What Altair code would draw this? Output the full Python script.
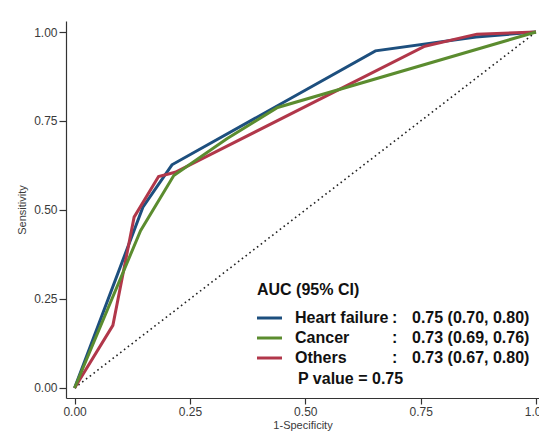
import altair as alt
import pandas as pd

# ROC curve points
hf_x = [0, 0.148, 0.211, 0.652, 0.87, 1]
hf_y = [0, 0.508, 0.627, 0.947, 0.986, 1]
ca_x = [0, 0.143, 0.215, 0.33, 0.44, 1]
ca_y = [0, 0.442, 0.597, 0.70, 0.788, 1]
ot_x = [0, 0.083, 0.129, 0.182, 0.218, 0.759, 0.872, 1]
ot_y = [0, 0.176, 0.48, 0.594, 0.606, 0.96, 0.994, 1]
diag_x = [0, 1]
diag_y = [0, 1]

series = ["Heart failure", "Cancer", "Others"]
colors = ["#1d4f7e", "#5b8c2f", "#b1374a"]
auc_text = ["0.75 (0.70, 0.80)", "0.73 (0.69, 0.76)", "0.73 (0.67, 0.80)"]
ticks = [0, 0.25, 0.5, 0.75, 1.0]

FONT = "Liberation Sans"


def df(xs, ys, name):
    return pd.DataFrame({"x": xs, "y": ys, "i": range(len(xs)), "s": name})


xscale = alt.Scale(domain=[-0.0186, 1.0065], nice=False, zero=False)
yscale = alt.Scale(domain=[-0.0281, 1.0309], nice=False, zero=False)

xax = alt.Axis(values=ticks, format=".2f", title="1-Specificity", grid=False,
               tickSize=6, labelPadding=2, titlePadding=2)
yax = alt.Axis(values=ticks, format=".2f", title="Sensitivity", grid=False,
               tickSize=7, labelPadding=2, titlePadding=6)


def curve(d, color):
    return alt.Chart(d).mark_line(strokeWidth=3, color=color).encode(
        x=alt.X("x:Q", scale=xscale, axis=xax),
        y=alt.Y("y:Q", scale=yscale, axis=yax),
        order="i:Q",
    )


diag = alt.Chart(df(diag_x, diag_y, "ref")).mark_line(
    color="#222222", strokeWidth=1.6, strokeDash=[1.6, 3.2]
).encode(
    x=alt.X("x:Q", scale=xscale, axis=xax),
    y=alt.Y("y:Q", scale=yscale, axis=yax),
    order="i:Q",
)

blue = curve(df(hf_x, hf_y, series[0]), colors[0])
green = curve(df(ca_x, ca_y, series[1]), colors[1])
red = curve(df(ot_x, ot_y, series[2]), colors[2])

# legend (custom, inside the plot)
leg_df = pd.DataFrame({"s": series, "c": colors, "v": auc_text})
LX = 191   # left end of legend line, plot coords
ROW0 = 297  # first legend row line y, plot coords
DY = 20

leg_lines = []
leg_texts = []
for k in range(3):
    yline = ROW0 + k * DY
    leg_lines.append(
        alt.Chart(leg_df.iloc[[k]]).mark_rule(strokeWidth=3, color=colors[k]).encode(
            x=alt.value(LX), x2=alt.value(LX + 25), y=alt.value(yline)
        )
    )
    base = alt.Chart(leg_df.iloc[[k]])
    style = dict(align="left", baseline="alphabetic", font=FONT, fontSize=16,
                 fontWeight="bold", color="#111111")
    leg_texts.append(base.mark_text(**style).encode(
        x=alt.value(229), y=alt.value(yline + 5), text="s:N"))
    leg_texts.append(base.mark_text(**style).encode(
        x=alt.value(326), y=alt.value(yline + 5), text=alt.value(":")))
    leg_texts.append(base.mark_text(**style).encode(
        x=alt.value(346), y=alt.value(yline + 5), text="v:N"))

hdr = alt.Chart(leg_df.iloc[[0]]).mark_text(
    align="left", baseline="alphabetic", font=FONT, fontSize=16, fontWeight="bold",
    color="#111111").encode(x=alt.value(LX), y=alt.value(274), text=alt.value("AUC (95% CI)"))
pval = alt.Chart(leg_df.iloc[[0]]).mark_text(
    align="left", baseline="alphabetic", font=FONT, fontSize=16, fontWeight="bold",
    color="#111111").encode(x=alt.value(232), y=alt.value(363), text=alt.value("P value = 0.75"))

chart = alt.layer(diag, blue, red, green, hdr, pval, *leg_lines, *leg_texts).properties(
    width=473, height=377,
    autosize=alt.AutoSizeParams(type="none"),
    padding={"left": 58, "top": 13, "right": 0, "bottom": 33},
).configure_view(stroke=None).configure_axis(
    labelFont=FONT, titleFont=FONT, labelFontSize=12, titleFontSize=11,
    labelColor="#3a3a3a", titleColor="#3a3a3a", titleFontWeight="normal",
    domainColor="#333333", tickColor="#333333", domainWidth=1.2, tickWidth=1.2,
)

chart.save("out.html", embed_options={"renderer": "svg", "actions": False})
